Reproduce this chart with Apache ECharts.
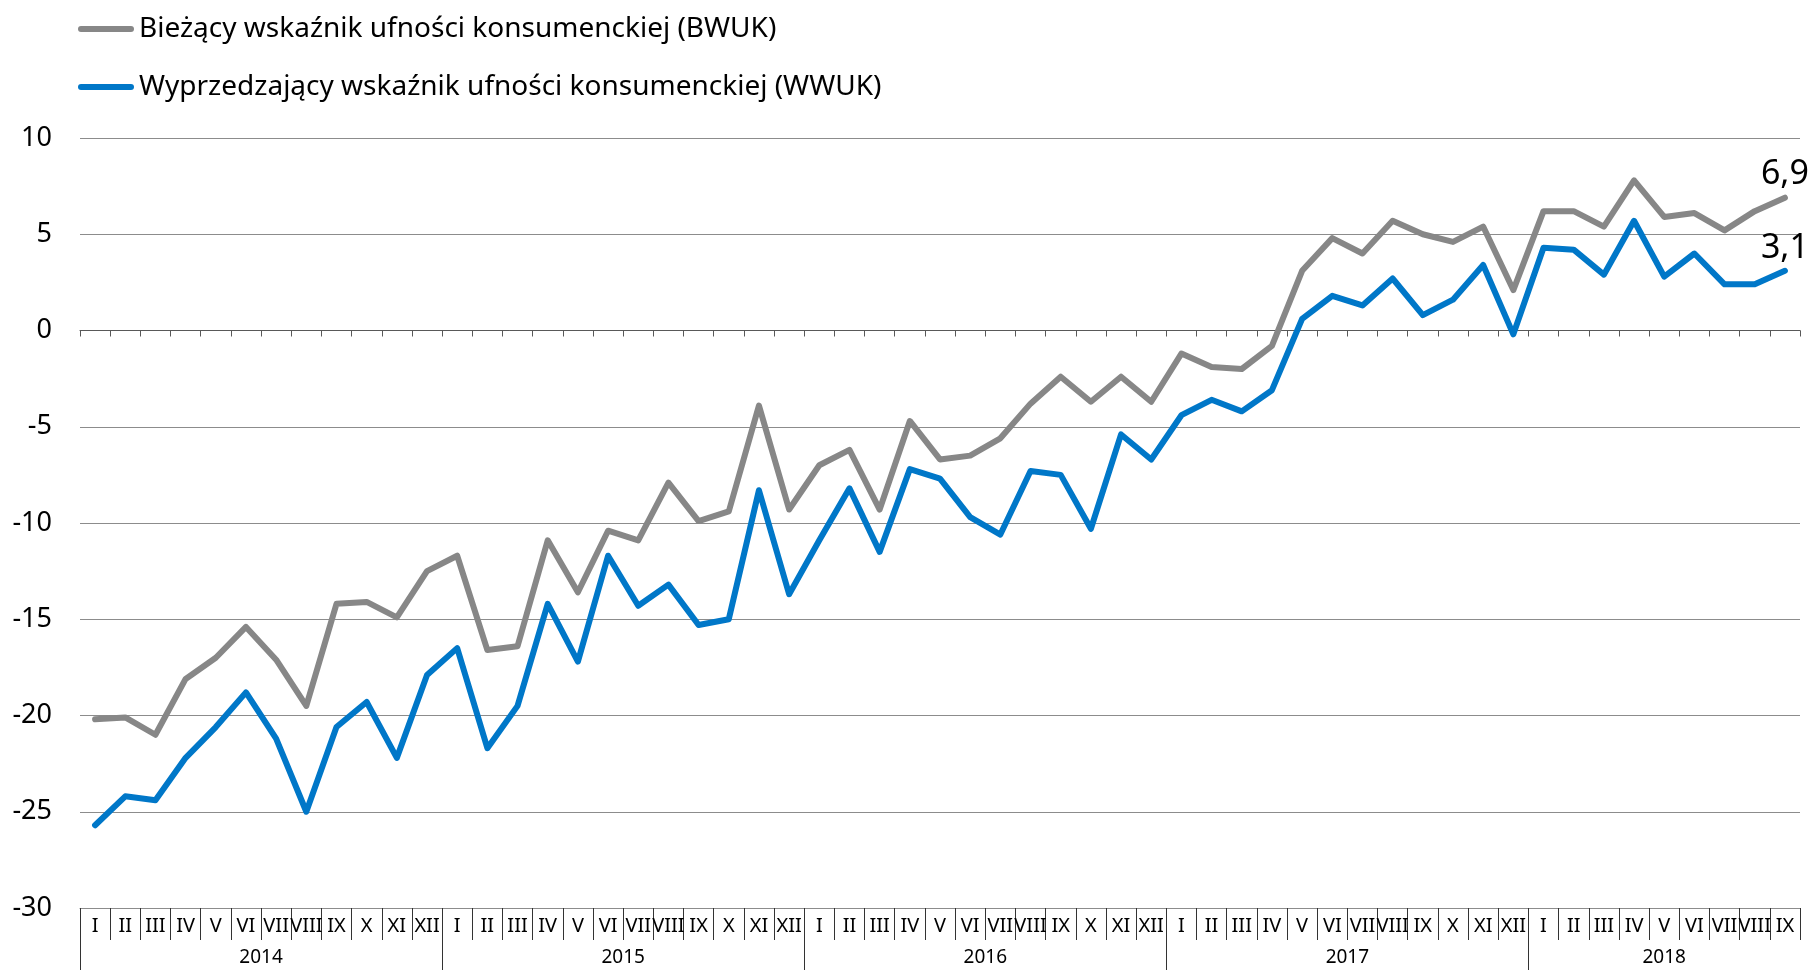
<!DOCTYPE html>
<html>
<head>
<meta charset="utf-8">
<script src="https://cdn.jsdelivr.net/npm/echarts@6/dist/echarts.min.js"></script>
<style>
html,body{margin:0;padding:0;background:#fff;}
#chart{width:1812px;height:970px;}
</style>
</head>
<body>
<div id="chart"></div>
<script>
// ---- DATA ----
const categories = [
  'I','II','III','IV','V','VI','VII','VIII','IX','X','XI','XII',
  'I','II','III','IV','V','VI','VII','VIII','IX','X','XI','XII',
  'I','II','III','IV','V','VI','VII','VIII','IX','X','XI','XII',
  'I','II','III','IV','V','VI','VII','VIII','IX','X','XI','XII',
  'I','II','III','IV','V','VI','VII','VIII','IX'
];
const years = ['2014','2015','2016','2017','2018'];
const monthsPerYear = [12, 12, 12, 12, 9];

const seriesNames = [
  'Bieżący wskaźnik ufności konsumenckiej (BWUK)',
  'Wyprzedzający wskaźnik ufności konsumenckiej (WWUK)'
];
const bwuk = [
  -20.2,-20.1,-21.0,-18.1,-17.0,-15.4,-17.1,-19.5,-14.2,-14.1,-14.9,-12.5,
  -11.7,-16.6,-16.4,-10.9,-13.6,-10.4,-10.9,-7.9,-9.9,-9.4,-3.9,-9.3,
  -7.0,-6.2,-9.3,-4.7,-6.7,-6.5,-5.6,-3.8,-2.4,-3.7,-2.4,-3.7,
  -1.2,-1.9,-2.0,-0.8,3.1,4.8,4.0,5.7,5.0,4.6,5.4,2.1,
  6.2,6.2,5.4,7.8,5.9,6.1,5.2,6.2,6.9
];
const wwuk = [
  -25.7,-24.2,-24.4,-22.2,-20.6,-18.8,-21.2,-25.0,-20.6,-19.3,-22.2,-17.9,
  -16.5,-21.7,-19.5,-14.2,-17.2,-11.7,-14.3,-13.2,-15.3,-15.0,-8.3,-13.7,
  -10.9,-8.2,-11.5,-7.2,-7.7,-9.7,-10.6,-7.3,-7.5,-10.3,-5.4,-6.7,
  -4.4,-3.6,-4.2,-3.1,0.6,1.8,1.3,2.7,0.8,1.6,3.4,-0.2,
  4.3,4.2,2.9,5.7,2.8,4.0,2.4,2.4,3.1
];
const yMin = -30, yMax = 10, yStep = 5;

// ---- derived helpers ----
const yearBounds = [];
const yearCenters = [];
let acc = 0;
monthsPerYear.forEach(n => { yearBounds.push(acc); yearCenters.push(acc + n / 2); acc += n; });
const total = categories.length;
const fmt = v => String(v).replace('.', ',');
const FONT = 'Noto Sans';
const GRAY = '#878787', BLUE = '#0077c8';

const chart = echarts.init(document.getElementById('chart'), null, {renderer: 'canvas'});
const lastIdx = total - 1;
const endLabel = {
  show: true,
  position: 'top',
  distance: 6,
  fontFamily: FONT,
  fontSize: 34,
  color: '#000',
  formatter: p => p.dataIndex === lastIdx ? fmt(p.value) : ''
};
const capsule = 'path://M3,0 L53,0 A3,3 0 0 1 53,6 L3,6 A3,3 0 0 1 3,0 Z';

chart.setOption({
  animation: false,
  backgroundColor: '#fff',
  grid: {left: 80, right: 12, top: 138, bottom: 62, outerBoundsMode: 'none', containLabel: false},
  legend: {
    orient: 'vertical',
    left: 78,
    top: 15,
    padding: 0,
    itemWidth: 56,
    itemHeight: 6,
    itemGap: 30,
    icon: capsule,
    textStyle: {fontFamily: FONT, fontSize: 28, color: '#000'},
    data: [
      {name: seriesNames[0], itemStyle: {color: GRAY}},
      {name: seriesNames[1], itemStyle: {color: BLUE}}
    ]
  },
  xAxis: [
    {
      type: 'category',
      data: categories,
      position: 'bottom',
      boundaryGap: true,
      axisLine: {show: true, onZero: false, lineStyle: {color: '#8c8c8c', width: 1}},
      axisTick: {show: true, interval: 0, length: 32, lineStyle: {color: '#333', width: 1}},
      axisLabel: {interval: 0, margin: 8, fontFamily: FONT, fontSize: 20, color: '#000'},
      splitLine: {show: false}
    },
    {
      type: 'category',
      data: categories,
      position: 'bottom',
      boundaryGap: true,
      axisLine: {show: true, onZero: true, lineStyle: {color: '#595959', width: 1}},
      axisTick: {show: true, interval: 0, length: 6, lineStyle: {color: '#595959', width: 1}},
      axisLabel: {show: false},
      splitLine: {show: false}
    },
    {
      type: 'value',
      min: 0,
      max: total,
      position: 'bottom',
      offset: 32,
      axisLine: {show: false, onZero: false},
      axisTick: {show: true, customValues: yearBounds, length: 30, lineStyle: {color: '#333', width: 1}},
      axisLabel: {
        show: true,
        customValues: yearCenters,
        margin: 8,
        fontFamily: FONT, fontSize: 19, color: '#000',
        formatter: v => {
          const i = yearCenters.indexOf(v);
          return i >= 0 ? years[i] : '';
        }
      },
      splitLine: {show: false}
    }
  ],
  yAxis: {
    type: 'value',
    min: yMin, max: yMax, interval: yStep,
    axisLine: {show: false, onZero: false},
    axisTick: {show: false},
    axisLabel: {margin: 28, fontFamily: FONT, fontSize: 27, color: '#000'},
    splitLine: {show: true, lineStyle: {color: '#8c8c8c', width: 1, type: 'solid'}}
  },
  series: [
    {
      name: seriesNames[0],
      type: 'line',
      xAxisIndex: 0,
      data: bwuk,
      symbol: 'circle',
      symbolSize: 0,
      showSymbol: true,
      lineStyle: {color: GRAY, width: 6, cap: 'round', join: 'round'},
      itemStyle: {color: GRAY},
      label: endLabel,
      z: 3
    },
    {
      name: seriesNames[1],
      type: 'line',
      xAxisIndex: 0,
      data: wwuk,
      symbol: 'circle',
      symbolSize: 0,
      showSymbol: true,
      lineStyle: {color: BLUE, width: 6, cap: 'round', join: 'round'},
      itemStyle: {color: BLUE},
      label: endLabel,
      z: 4
    }
  ]
});
</script>
</body>
</html>
